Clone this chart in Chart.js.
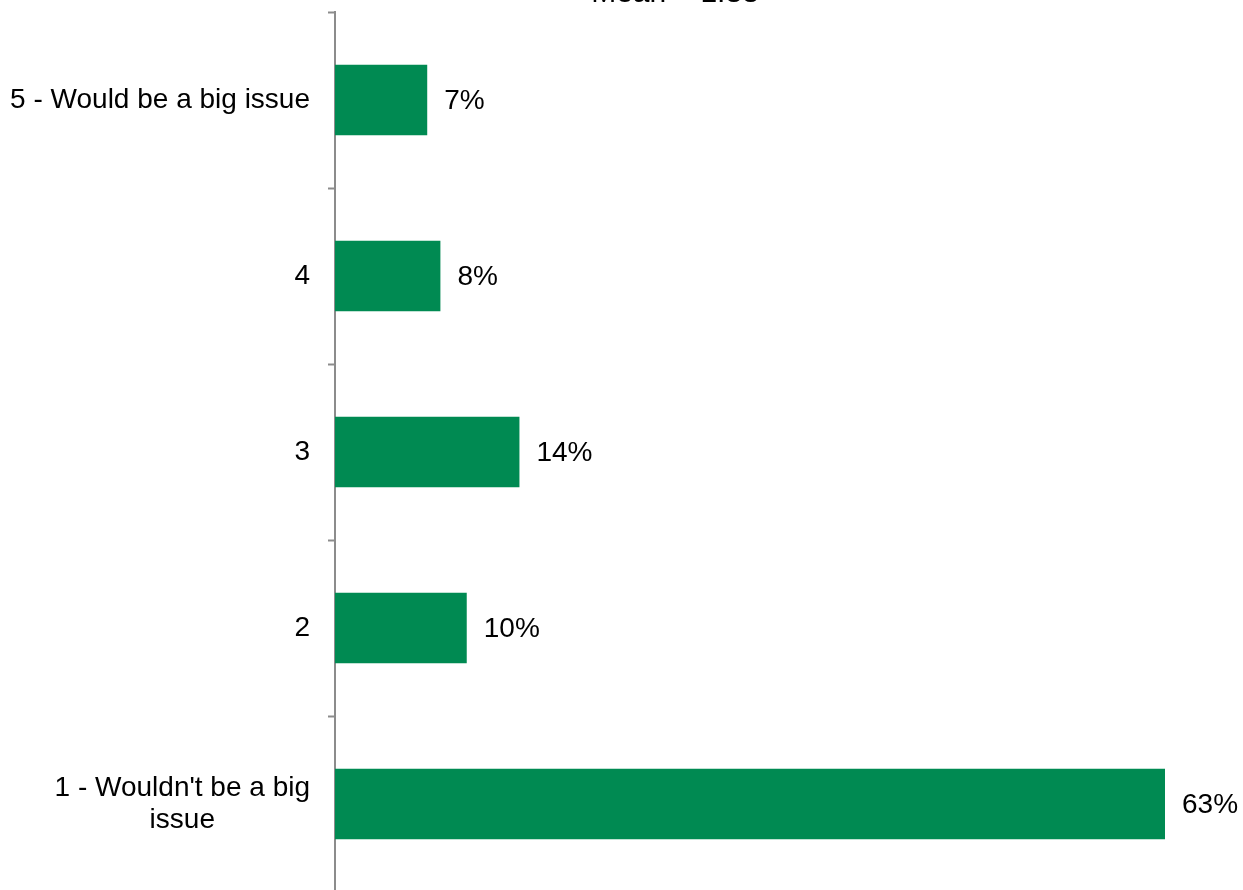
<!DOCTYPE html>
<html>
<head>
<meta charset="utf-8">
<script src="https://cdn.jsdelivr.net/npm/chart.js@4/dist/chart.umd.min.js"></script>
<style>
  html, body { margin: 0; padding: 0; background: #fff; overflow: hidden; }
  #wrap { width: 1243px; height: 890px; overflow: hidden; }
  canvas { display: block; }
</style>
</head>
<body>
<div id="wrap"><canvas id="chart" width="1243" height="892"></canvas></div>
<script>
var titleText = "Mean = 1.88";
var categories = [
  ["5 - Would be a big issue"],
  ["4"],
  ["3"],
  ["2"],
  ["1 - Wouldn't be a big", "issue"]
];
var percents = [7, 8, 14, 10, 63];

var FONT = "'Liberation Sans', Arial, sans-serif";

// draws the category names, the % labels and the mean at the top
var labelPlugin = {
  id: 'labels',
  afterDraw: function (chart) {
    var ctx = chart.ctx;
    var xs = chart.scales.x, ys = chart.scales.y;
    ctx.save();
    ctx.fillStyle = '#000';
    ctx.font = '28px ' + FONT;
    ctx.textBaseline = 'middle';

    categories.forEach(function (lines, i) {
      var y = ys.getPixelForValue(i);
      var w = 0;
      lines.forEach(function (l) { w = Math.max(w, ctx.measureText(l).width); });
      var cx = 310 - w / 2;
      ctx.textAlign = 'center';
      lines.forEach(function (l, k) {
        ctx.fillText(l, cx, y + (k - (lines.length - 1) / 2) * 32);
      });
    });

    ctx.textAlign = 'left';
    percents.forEach(function (v, i) {
      ctx.fillText(v + '%', xs.getPixelForValue(v) + 17, ys.getPixelForValue(i) + 1);
    });

    ctx.font = '30px ' + FONT;
    ctx.textAlign = 'center';
    ctx.textBaseline = 'alphabetic';
    ctx.fillText(titleText, 675, 2);
    ctx.restore();
  }
};

new Chart(document.getElementById('chart').getContext('2d'), {
  type: 'bar',
  data: {
    labels: categories,
    datasets: [{
      data: percents,
      backgroundColor: '#008a52',
      borderWidth: 0,
      barPercentage: 0.4,
      categoryPercentage: 1.0
    }]
  },
  options: {
    indexAxis: 'y',
    responsive: false,
    animation: false,
    layout: { padding: { top: 12, right: 78, bottom: 0, left: 0 } },
    plugins: {
      legend: { display: false },
      tooltip: { enabled: false }
    },
    scales: {
      x: {
        display: false,
        min: 0,
        max: 63
      },
      y: {
        grid: {
          display: true,
          drawOnChartArea: false,
          drawTicks: true,
          tickLength: 7,
          tickWidth: 2,
          color: '#8c8c8c'
        },
        border: { display: true, color: '#8c8c8c', width: 2 },
        ticks: { display: false },
        afterFit: function (scale) { scale.width = 335; }
      }
    }
  },
  plugins: [labelPlugin]
});
</script>
</body>
</html>
